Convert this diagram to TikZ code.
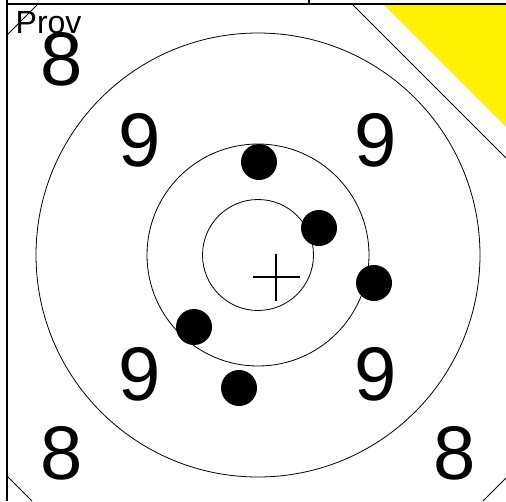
\documentclass[tikz,border=0pt]{standalone}
\usepackage{fontspec}
\setmainfont{Liberation Sans}

\begin{document}
\begin{tikzpicture}[
x=1pt, y=-1pt,
ring/.style={draw, line width=0.8pt},
frameline/.style={draw, line width=1.3pt},
cutline/.style={draw, line width=1pt},
score/.style={font=\fontsize{76}{76}\selectfont, inner sep=0pt, anchor=base},
shot/.style={fill=black}
]
\useasboundingbox (0,0) rectangle (506,501);
\clip (0,0) rectangle (506,501);

% rings of the target
\coordinate (c) at (258,255);
\draw[ring] (c) circle[radius=55.5];
\draw[ring] (c) circle[radius=111];
\draw[ring] (c) circle[radius=222];

% frame and cut corners
\draw[frameline] (7,0) -- (7,501);
\draw[frameline] (7,4) -- (506,4);
\draw[frameline] (309,0) -- (309,4);
\draw[cutline] (7,35) -- (38,4);
\draw[cutline] (7,476) -- (32,501);
\draw[cutline] (483,501) -- (506,478);
\draw[cutline] (352,4) -- (506,158);

% scores
\node[score] (s8a) at (62,85) {8};
\node[score] (s9a) at (140,166) {9};
\node[score] (s9b) at (376,166) {9};
\node[score] (s9c) at (140,400) {9};
\node[score] (s9d) at (376,400) {9};
\node[score] (s8b) at (62,479) {8};
\node[score] (s8c) at (455,479) {8};
\node[font=\fontsize{32}{32}\selectfont, inner sep=0pt, anchor=base west] (prov) at (15.5,33) {Prov};

% shots
\fill[shot] (259,162) circle[radius=18];
\fill[shot] (319,228) circle[radius=18];
\fill[shot] (374,283) circle[radius=18];
\fill[shot] (194,327) circle[radius=18];
\fill[shot] (239,388) circle[radius=18];

% centre mark
\draw[line width=1.8pt] (253,277) -- (300,277) (276,254) -- (276,301);

% yellow corner
\fill[yellow] (384,5) -- (506,5) -- (506,127) -- cycle;
\end{tikzpicture}
\end{document}
